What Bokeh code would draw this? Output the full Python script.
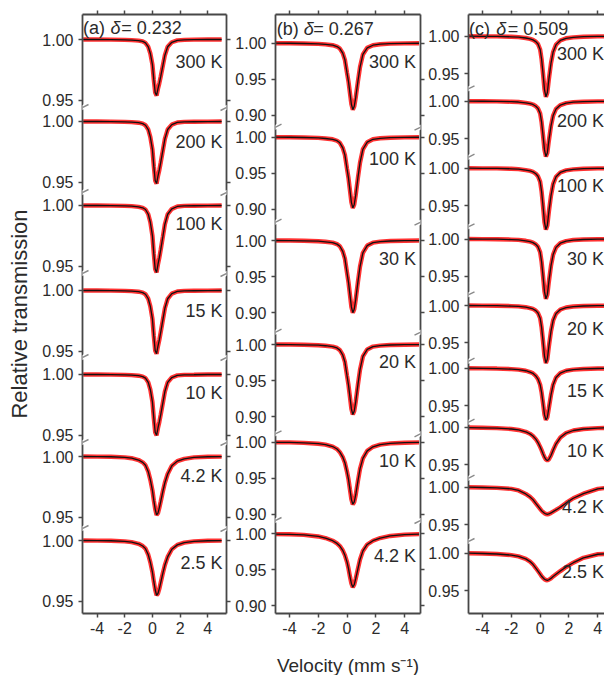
from bokeh.plotting import figure
from bokeh.layouts import row
from bokeh.models import (FixedTicker, Range1d, LinearAxis, Label, Arrow, ColumnDataSource,
                          CustomJSTickFormatter)
from bokeh.embed import file_html
from bokeh.resources import INLINE

# ---------------- data (velocity in mm/s, relative transmission) ----------------
VELOCITY = [-5, -4, -3, -2, -1.5, -1.0, -0.7, -0.5, -0.3, -0.15, 0.0, 0.1, 0.2, 0.3,
            0.4, 0.5, 0.6, 0.75, 0.9, 1.1, 1.4, 1.8, 2.3, 3, 4, 5]

# (a) delta = 0.232
A_TEMPS = ["300 K", "200 K", "100 K", "15 K", "10 K", "4.2 K", "2.5 K"]
A_300K = [1.0000, 1.0000, 0.9999, 0.9997, 0.9995, 0.9991, 0.9984, 0.9972, 0.9940, 0.9885, 0.9793, 0.9669, 0.9563, 0.9540, 0.9595, 0.9641, 0.9696, 0.9784, 0.9871, 0.9940, 0.9977, 0.9993, 0.9997, 0.9999, 1.0000, 1.0000]
A_200K = [1.0000, 1.0000, 0.9999, 0.9997, 0.9995, 0.9990, 0.9982, 0.9969, 0.9934, 0.9872, 0.9770, 0.9633, 0.9515, 0.9490, 0.9551, 0.9602, 0.9663, 0.9760, 0.9857, 0.9934, 0.9974, 0.9992, 0.9997, 0.9998, 0.9999, 1.0000]
A_100K = [1.0000, 1.0000, 0.9999, 0.9997, 0.9995, 0.9989, 0.9981, 0.9967, 0.9928, 0.9862, 0.9752, 0.9604, 0.9477, 0.9450, 0.9516, 0.9571, 0.9637, 0.9741, 0.9846, 0.9928, 0.9972, 0.9992, 0.9997, 0.9998, 0.9999, 1.0000]
A_15K = [1.0000, 1.0000, 0.9999, 0.9997, 0.9995, 0.9990, 0.9982, 0.9969, 0.9932, 0.9870, 0.9766, 0.9626, 0.9506, 0.9480, 0.9542, 0.9594, 0.9657, 0.9756, 0.9854, 0.9932, 0.9974, 0.9992, 0.9997, 0.9998, 0.9999, 1.0000]
A_10K = [1.0000, 1.0000, 0.9999, 0.9997, 0.9995, 0.9990, 0.9983, 0.9970, 0.9935, 0.9875, 0.9775, 0.9640, 0.9525, 0.9500, 0.9560, 0.9610, 0.9670, 0.9765, 0.9860, 0.9935, 0.9975, 0.9993, 0.9997, 0.9998, 1.0000, 1.0000]
A_4_2K = [1.0000, 0.9999, 0.9998, 0.9993, 0.9986, 0.9971, 0.9952, 0.9928, 0.9875, 0.9808, 0.9722, 0.9640, 0.9568, 0.9520, 0.9534, 0.9578, 0.9630, 0.9712, 0.9784, 0.9856, 0.9923, 0.9962, 0.9981, 0.9993, 0.9998, 0.9999]
A_2_5K = [1.0000, 0.9999, 0.9998, 0.9993, 0.9987, 0.9973, 0.9955, 0.9933, 0.9883, 0.9820, 0.9739, 0.9663, 0.9595, 0.9550, 0.9564, 0.9604, 0.9654, 0.9730, 0.9798, 0.9865, 0.9928, 0.9964, 0.9982, 0.9993, 0.9998, 0.9999]

# (b) delta = 0.267
B_TEMPS = ["300 K", "100 K", "30 K", "20 K", "10 K", "4.2 K"]
B_300K = [1.0000, 0.9999, 0.9996, 0.9991, 0.9983, 0.9972, 0.9954, 0.9926, 0.9862, 0.9770, 0.9586, 0.9466, 0.9310, 0.9154, 0.9080, 0.9126, 0.9246, 0.9466, 0.9669, 0.9844, 0.9936, 0.9972, 0.9986, 0.9994, 0.9997, 0.9999]
B_100K = [1.0000, 0.9999, 0.9996, 0.9990, 0.9982, 0.9971, 0.9951, 0.9922, 0.9853, 0.9755, 0.9559, 0.9432, 0.9265, 0.9098, 0.9020, 0.9069, 0.9196, 0.9432, 0.9647, 0.9833, 0.9931, 0.9971, 0.9985, 0.9993, 0.9997, 0.9999]
B_30K = [1.0000, 0.9999, 0.9996, 0.9990, 0.9982, 0.9970, 0.9950, 0.9920, 0.9850, 0.9750, 0.9550, 0.9420, 0.9250, 0.9080, 0.9000, 0.9050, 0.9180, 0.9420, 0.9640, 0.9830, 0.9930, 0.9970, 0.9985, 0.9993, 0.9997, 0.9999]
B_20K = [1.0000, 0.9999, 0.9996, 0.9990, 0.9983, 0.9971, 0.9952, 0.9922, 0.9855, 0.9758, 0.9564, 0.9437, 0.9273, 0.9108, 0.9030, 0.9079, 0.9205, 0.9437, 0.9651, 0.9835, 0.9932, 0.9971, 0.9985, 0.9993, 0.9997, 0.9999]
B_10K = [0.9998, 0.9997, 0.9991, 0.9979, 0.9966, 0.9940, 0.9905, 0.9862, 0.9794, 0.9716, 0.9587, 0.9484, 0.9346, 0.9209, 0.9140, 0.9174, 0.9269, 0.9458, 0.9630, 0.9776, 0.9880, 0.9936, 0.9966, 0.9983, 0.9993, 0.9997]
B_4_2K = [0.9996, 0.9993, 0.9985, 0.9963, 0.9941, 0.9904, 0.9867, 0.9830, 0.9771, 0.9704, 0.9608, 0.9519, 0.9408, 0.9312, 0.9260, 0.9297, 0.9378, 0.9512, 0.9645, 0.9763, 0.9852, 0.9904, 0.9941, 0.9970, 0.9989, 0.9996]

# (c) delta = 0.509
C_TEMPS = ["300 K", "200 K", "100 K", "30 K", "20 K", "15 K", "10 K", "4.2 K", "2.5 K"]
C_300K = [1.0000, 0.9998, 0.9997, 0.9992, 0.9988, 0.9976, 0.9964, 0.9951, 0.9927, 0.9895, 0.9822, 0.9692, 0.9498, 0.9287, 0.9190, 0.9247, 0.9417, 0.9636, 0.9789, 0.9887, 0.9943, 0.9972, 0.9985, 0.9993, 0.9997, 0.9998]
C_200K = [1.0000, 0.9999, 0.9997, 0.9993, 0.9989, 0.9978, 0.9967, 0.9956, 0.9933, 0.9904, 0.9837, 0.9719, 0.9541, 0.9349, 0.9260, 0.9312, 0.9467, 0.9667, 0.9808, 0.9896, 0.9948, 0.9974, 0.9987, 0.9993, 0.9997, 0.9999]
C_100K = [1.0000, 0.9998, 0.9997, 0.9992, 0.9988, 0.9975, 0.9963, 0.9951, 0.9926, 0.9893, 0.9820, 0.9688, 0.9492, 0.9278, 0.9180, 0.9237, 0.9410, 0.9631, 0.9787, 0.9885, 0.9943, 0.9971, 0.9985, 0.9993, 0.9997, 0.9998]
C_30K = [1.0000, 0.9998, 0.9997, 0.9992, 0.9988, 0.9976, 0.9964, 0.9952, 0.9928, 0.9896, 0.9824, 0.9696, 0.9504, 0.9296, 0.9200, 0.9256, 0.9424, 0.9640, 0.9792, 0.9888, 0.9944, 0.9972, 0.9986, 0.9993, 0.9997, 0.9998]
C_20K = [1.0000, 0.9998, 0.9997, 0.9992, 0.9988, 0.9977, 0.9965, 0.9954, 0.9931, 0.9900, 0.9831, 0.9707, 0.9523, 0.9322, 0.9230, 0.9284, 0.9446, 0.9654, 0.9800, 0.9892, 0.9946, 0.9973, 0.9986, 0.9993, 0.9997, 0.9998]
C_15K = [1.0000, 0.9998, 0.9995, 0.9988, 0.9981, 0.9966, 0.9948, 0.9931, 0.9897, 0.9855, 0.9779, 0.9676, 0.9531, 0.9379, 0.9310, 0.9345, 0.9462, 0.9641, 0.9779, 0.9876, 0.9934, 0.9966, 0.9981, 0.9990, 0.9996, 0.9998]
C_10K = [0.9995, 0.9992, 0.9987, 0.9976, 0.9963, 0.9939, 0.9911, 0.9882, 0.9840, 0.9795, 0.9737, 0.9693, 0.9644, 0.9600, 0.9568, 0.9555, 0.9568, 0.9622, 0.9693, 0.9778, 0.9862, 0.9922, 0.9956, 0.9976, 0.9988, 0.9992]
C_4_2K = [1.0000, 0.9996, 0.9991, 0.9978, 0.9957, 0.9910, 0.9870, 0.9834, 0.9783, 0.9747, 0.9710, 0.9685, 0.9667, 0.9652, 0.9642, 0.9638, 0.9642, 0.9656, 0.9674, 0.9696, 0.9732, 0.9790, 0.9852, 0.9913, 0.9978, 1.0000]
C_2_5K = [1.0000, 0.9996, 0.9989, 0.9975, 0.9957, 0.9924, 0.9888, 0.9852, 0.9801, 0.9761, 0.9721, 0.9692, 0.9671, 0.9652, 0.9642, 0.9638, 0.9645, 0.9663, 0.9689, 0.9718, 0.9761, 0.9815, 0.9873, 0.9938, 0.9986, 0.9996]

A_YTICKS = [1.00, 0.95]
B_YTICKS = [1.00, 0.95, 0.90]
C_YTICKS = [1.00, 0.95]
X_TICKS = [-4, -2, 0, 2, 4]
X_TICK_LABELS = ["-4", "-2", "0", "2", "4"]

TITLES = [("(a)", "\u03b4", "= 0.232"), ("(b)", "\u03b4", "= 0.267"), ("(c)", "\u03b4", "= 0.509")]
Y_LABEL = "Relative transmission"
X_LABEL = "Velocity (mm s\u207b\u00b9)"

# ---------------- layout / style (page pixels) ----------------
FONT = "Liberation Sans"
INK = "#2b2b2b"
AXC = "#474747"
RED = "#ff1c1c"
FIT = "#111111"
TOP, FH = 14, 599

LAYOUT = {
    "a": dict(xr=(-5.05, 5.35), fl=82, fw=144, bl=82, br=6, s=1216.0,
              one=[39, 121, 205, 290, 374, 456, 540],
              brk=[107, 192, 273, 357, 442, 528],
              lab=[61, 141, 223, 310, 392, 475, 562], lab_x=222.0,
              tx=(82.5, 110.0, 120.7), ty=27.0, right=True),
    "b": dict(xr=(-4.97, 5.10), fl=273, fw=145, bl=41, br=5, s=722.0,
              one=[42.7, 136.7, 240, 344, 441.7, 533.3],
              brk=[126.7, 221.7, 331.7, 433.3, 520],
              lab=[61.7, 158, 258, 361.7, 460, 555], lab_x=413.5,
              tx=(274.2, 301.3, 310.7), ty=28.3, right=True),
    "c": dict(xr=(-4.97, 4.81), fl=463, fw=141, bl=40, br=0, s=748.0,
              one=[35.7, 100.7, 167.7, 238.5, 305, 367.7, 426.7, 486.7, 552.7],
              brk=[88.3, 156.7, 226.3, 294.3, 360.7, 421.7, 477.7, 541],
              lab=[53.3, 120, 185, 258.3, 328.3, 390, 450, 506.7, 571.7], lab_x=598.5,
              tx=(463.5, 490.7, 502.3), ty=28.3, right=False),
}

BLANK = CustomJSTickFormatter(code="return ''")


def style_axis(ax, labels=True):
    ax.axis_line_color = AXC
    ax.axis_line_width = 1.8
    ax.major_tick_line_color = AXC
    ax.major_tick_line_width = 1.5
    ax.major_tick_in = 0
    ax.major_tick_out = 4
    ax.minor_tick_line_color = None
    ax.major_label_text_font = FONT
    ax.major_label_text_color = INK
    ax.major_label_text_font_size = "16px"
    if labels:
        ax.major_label_standoff = 5
    else:
        ax.formatter = BLANK
        ax.major_label_standoff = 0


def make_panel(cfg, temps, spectra, yticks, title, y_label=None, x_label=None):
    xs, xe = cfg["xr"]
    fw, s, fl = cfg["fw"], cfg["s"], cfg["fl"]
    pxu = fw / (xe - xs)
    yt = 1.0 + (cfg["one"][0] - TOP) / s
    yb = yt - FH / s

    def X(px):
        return xs + (px - fl) / pxu

    def Y(py):
        return yt - (py - TOP) / s

    def seg(k, v):
        return Y(cfg["one"][k]) - (1.0 - v)

    p = figure(frame_width=fw, frame_height=FH, min_border_left=cfg["bl"],
               min_border_right=cfg["br"], min_border_top=TOP, min_border_bottom=62,
               x_range=Range1d(xs, xe), y_range=Range1d(yb, yt),
               x_axis_location=None, y_axis_location=None,
               output_backend="svg", toolbar_location=None)
    p.outline_line_color = None
    p.background_fill_color = "white"
    p.border_fill_color = "white"
    for g in p.grid:
        g.visible = False

    # spectra: red measured band + black fit
    for k, vals in enumerate(spectra):
        ys = [seg(k, v) for v in vals]
        p.line(VELOCITY, ys, line_color=RED, line_width=4.4, line_alpha=0.9)
        p.line(VELOCITY, ys, line_color=FIT, line_width=1.3)

    # y axes with broken ticks
    tvals, over = [], {}
    for k in range(len(spectra)):
        for t in yticks:
            v = round(seg(k, t), 6)
            tvals.append(v)
            over[v] = f"{t:.2f}"
    left = LinearAxis(ticker=FixedTicker(ticks=tvals), major_label_overrides=over)
    style_axis(left, True)
    if y_label:
        left.axis_label = y_label
        left.axis_label_text_font = FONT
        left.axis_label_text_font_size = "22px"
        left.axis_label_text_font_style = "normal"
        left.axis_label_text_color = INK
        left.axis_label_standoff = 7
    p.add_layout(left, "left")
    if cfg["right"]:
        right = LinearAxis(ticker=FixedTicker(ticks=tvals))
        style_axis(right, False)
        p.add_layout(right, "right")

    xover = {t: l for t, l in zip(X_TICKS, X_TICK_LABELS)}
    bottom = LinearAxis(ticker=FixedTicker(ticks=X_TICKS), major_label_overrides=xover)
    style_axis(bottom, True)
    bottom.major_label_standoff = 4
    if x_label:
        bottom.axis_label = x_label
        bottom.axis_label_text_font = FONT
        bottom.axis_label_text_font_size = "19px"
        bottom.axis_label_text_font_style = "normal"
        bottom.axis_label_text_color = INK
        bottom.axis_label_standoff = 18
    p.add_layout(bottom, "below")
    top = LinearAxis(ticker=FixedTicker(ticks=X_TICKS))
    style_axis(top, False)
    p.add_layout(top, "above")

    # axis-break marks
    edges = [xs] + ([xe] if cfg["right"] else [])
    d = dict(x0=[], y0=[], x1=[], y1=[])
    for xe_ in edges:
        for b in cfg["brk"]:
            yb_ = Y(b)
            d["x0"].append(xe_ - 6 / pxu)
            d["x1"].append(xe_ + 6 / pxu)
            d["y0"].append(yb_ - 3 / s)
            d["y1"].append(yb_ + 3 / s)
    src = ColumnDataSource(d)
    p.add_layout(Arrow(start=None, end=None, source=src, x_start="x0", y_start="y0",
                       x_end="x1", y_end="y1", line_color="white", line_width=4.5))
    p.add_layout(Arrow(start=None, end=None, source=src, x_start="x0", y_start="y0",
                       x_end="x1", y_end="y1", line_color="#8a8a8a", line_width=1.4))

    # temperature labels
    for k, t in enumerate(temps):
        p.add_layout(Label(x=X(cfg["lab_x"]), y=Y(cfg["lab"][k]), text=t,
                           text_align="right", text_baseline="middle", text_font=FONT,
                           text_font_size="18px", text_color=INK))

    # panel title: "(a) δ= 0.232"
    styles = ["normal", "italic", "normal"]
    for part, px, st in zip(title, cfg["tx"], styles):
        p.add_layout(Label(x=X(px), y=Y(cfg["ty"]), text=part, text_align="left",
                           text_baseline="middle", text_font=FONT, text_font_size="18px",
                           text_font_style=st, text_color=INK))
    return p


pa = make_panel(LAYOUT["a"], A_TEMPS, [A_300K, A_200K, A_100K, A_15K, A_10K, A_4_2K, A_2_5K],
                A_YTICKS, TITLES[0], y_label=Y_LABEL)
pb = make_panel(LAYOUT["b"], B_TEMPS, [B_300K, B_100K, B_30K, B_20K, B_10K, B_4_2K],
                B_YTICKS, TITLES[1], x_label=X_LABEL)
pc = make_panel(LAYOUT["c"], C_TEMPS, [C_300K, C_200K, C_100K, C_30K, C_20K, C_15K, C_10K, C_4_2K, C_2_5K],
                C_YTICKS, TITLES[2])

layout = row(pa, pb, pc, spacing=0)
open("out.html", "w").write(file_html(layout, INLINE))
